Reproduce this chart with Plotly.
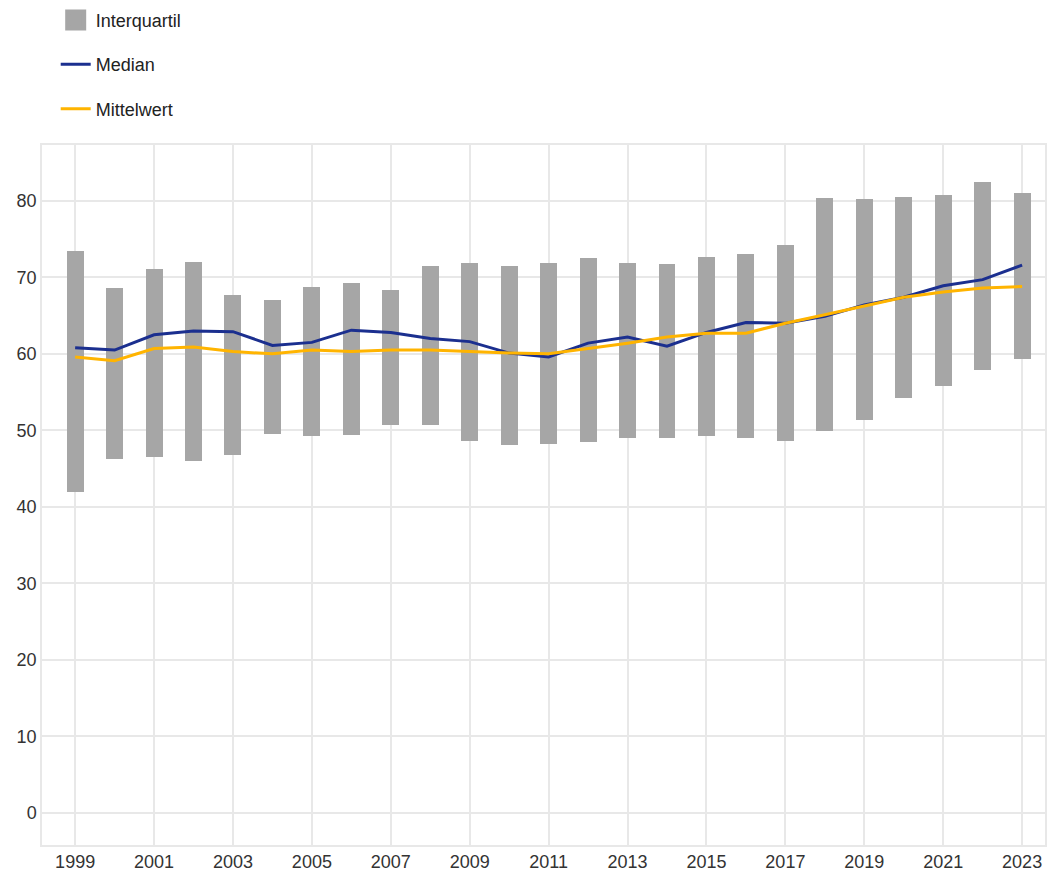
import plotly.graph_objects as go

years = list(range(1999, 2024))
q_upper = [73.5, 68.6, 71.1, 72.0, 67.7, 67.1, 68.8, 69.2, 68.4, 71.5, 71.9, 71.5, 71.9,
           72.5, 71.9, 71.8, 72.7, 73.1, 74.2, 80.4, 80.3, 80.5, 80.8, 82.5, 81.0]
q_lower = [42.0, 46.3, 46.5, 46.0, 46.8, 49.5, 49.2, 49.4, 50.7, 50.7, 48.6, 48.1, 48.2,
           48.5, 49.0, 49.0, 49.2, 49.0, 48.6, 49.9, 51.4, 54.2, 55.8, 57.9, 59.3]
median = [60.8, 60.5, 62.5, 63.0, 62.9, 61.1, 61.5, 63.1, 62.8, 62.0, 61.6, 60.1, 59.6,
          61.4, 62.2, 61.0, 62.8, 64.1, 64.0, 64.9, 66.4, 67.4, 68.9, 69.7, 71.6]
mittelwert = [59.6, 59.1, 60.7, 60.9, 60.3, 60.0, 60.5, 60.3, 60.5, 60.5, 60.3, 60.1, 60.0,
              60.7, 61.4, 62.2, 62.7, 62.7, 64.0, 65.1, 66.3, 67.4, 68.1, 68.6, 68.8]
tick_years = list(range(1999, 2024, 2))
y_ticks = [0, 10, 20, 30, 40, 50, 60, 70, 80]

GRAY = "#a6a6a6"
BLUE = "#1b2f8f"
YELLOW = "#ffb400"
GRID = "#e8e8e8"

fig = go.Figure()

fig.add_trace(go.Bar(
    x=years, y=[u - l for u, l in zip(q_upper, q_lower)], base=q_lower,
    marker=dict(color=GRAY, line=dict(width=0)), width=0.43,
    showlegend=False, name="Interquartil", hoverinfo="skip",
))
# legend entry for the interquartile bars
fig.add_trace(go.Scatter(
    x=[None], y=[None], mode="markers", name="Interquartil",
    marker=dict(symbol="square", size=16, color=GRAY, line=dict(color=GRAY, width=5)),
    legendgroup="a",
))
fig.add_trace(go.Scatter(
    x=years, y=median, mode="lines", name="Median",
    line=dict(color=BLUE, width=3), legendgroup="b",
))
fig.add_trace(go.Scatter(
    x=years, y=mittelwert, mode="lines", name="Mittelwert",
    line=dict(color=YELLOW, width=3), legendgroup="c",
))

fig.update_layout(
    width=1051, height=879,
    margin=dict(l=42, r=6, t=145, b=34, autoexpand=False),
    paper_bgcolor="white", plot_bgcolor="white",
    font=dict(family="Liberation Sans, Arial, sans-serif", size=18, color="#333333"),
    showlegend=True,
    legend=dict(
        xref="container", yref="container", x=0.053, y=0.998,
        xanchor="left", yanchor="top",
        font=dict(size=18, color="#222222"),
        traceorder="grouped", tracegroupgap=18,
        bgcolor="rgba(0,0,0,0)", itemwidth=30,
    ),
    bargap=0,
)
fig.update_xaxes(
    range=[1998.16, 2023.58], tickmode="array", tickvals=tick_years,
    ticktext=[str(y) for y in tick_years],
    showgrid=True, gridcolor=GRID, gridwidth=1.5,
    showline=True, linecolor=GRID, linewidth=1.5, mirror=True,
    zeroline=False, ticks="",
)
fig.update_yaxes(
    range=[-4.2, 87.3], tickmode="array", tickvals=y_ticks,
    showgrid=True, gridcolor=GRID, gridwidth=1.5,
    showline=True, linecolor=GRID, linewidth=1.5, mirror=True,
    zeroline=False, ticks="",
)

fig.write_html("out.html", config={"displayModeBar": False},
               post_script="document.body.style.margin='0';")
